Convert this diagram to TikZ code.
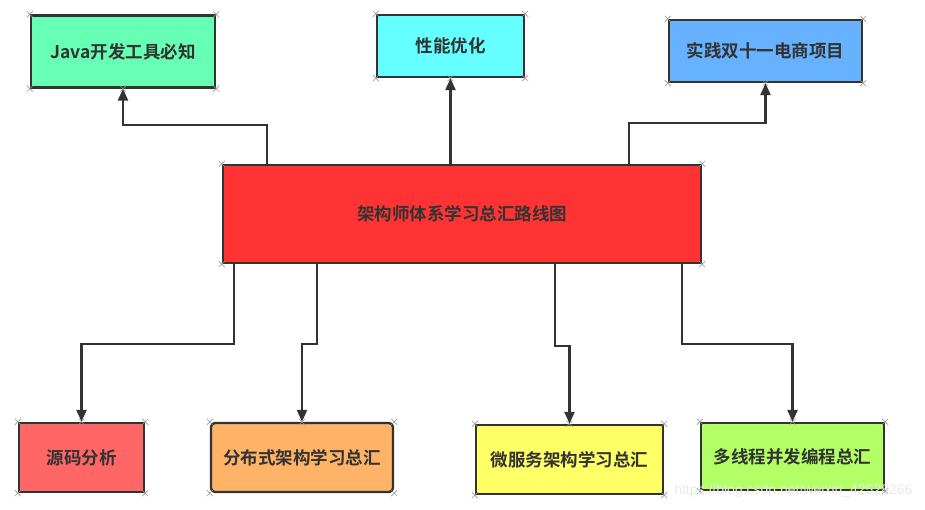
\documentclass[tikz,border=0pt]{standalone}
\usepackage{fontspec}
\setmainfont{Noto Sans CJK SC}[BoldFont={Noto Sans CJK SC Bold}]
\newfontfamily\wmfont{Liberation Sans}
\usetikzlibrary{arrows.meta,calc}
\definecolor{edge}{HTML}{333333}
\definecolor{cJava}{HTML}{66FFB3}
\definecolor{cPerf}{HTML}{66FFFF}
\definecolor{cShop}{HTML}{66B2FF}
\definecolor{cMain}{HTML}{FF3333}
\definecolor{cSrc}{HTML}{FF6666}
\definecolor{cDist}{HTML}{FFB366}
\definecolor{cMicro}{HTML}{FFFF66}
\definecolor{cThread}{HTML}{B3FF66}
\tikzset{
  box/.style={draw=edge, line width=2.4pt, inner sep=0pt, text=edge,
    font=\fontsize{17.5}{20}\selectfont\bfseries},
  conn/.style={draw=edge, line width=2.4pt, -{Triangle[length=12pt,width=10pt]}},
  xm/.pic={\draw[gray!80, line width=0.6pt] (-3,-3)--(3,3) (-3,3)--(3,-3);}
}
\begin{document}
\begin{tikzpicture}[x=1pt,y=-1pt]
\useasboundingbox (0,0) rectangle (925,510);
% boxes
\node[box, fill=cJava, minimum width=184pt, minimum height=72pt] (j) at (123,51.5) {Java开发工具必知};
\node[box, fill=cPerf, minimum width=147pt, minimum height=62pt] (p) at (450.5,46) {性能优化};
\node[box, fill=cShop, minimum width=193pt, minimum height=62pt] (s) at (765.5,51) {实践双十一电商项目};
\node[box, fill=cMain, minimum width=478pt, minimum height=98pt] (c) at (462,214) {架构师体系学习总汇路线图};
\node[box, fill=cSrc, minimum width=125pt, minimum height=69pt] (a) at (81.5,457.5) {源码分析};
\node[box, fill=cDist, rounded corners=4pt, minimum width=182pt, minimum height=69pt] (b) at (302,457.5) {分布式架构学习总汇};
\node[box, fill=cMicro, minimum width=187pt, minimum height=69pt] (m) at (569.5,459.5) {微服务架构学习总汇};
\node[box, fill=cThread, minimum width=183pt, minimum height=67pt] (d) at (792.5,456.5) {多线程并发编程总汇};
% connectors
\draw[conn] ([xshift=45pt]c.north west) -- ++(0,-39) -| (j.south);
\draw[conn] (p.south |- c.north) -- (p.south);
\draw[conn] ([xshift=-73pt]c.north east) -- ++(0,-41) -| (s.south);
\draw[conn] ([xshift=12pt]c.south west) -- ++(0,80) -| (a.north);
\draw[conn] ([xshift=95pt]c.south west) -- ++(0,80) -| (b.north);
\draw[conn] ([xshift=333pt]c.south west) -- ++(0,82) -| (m.north);
\draw[conn] ([xshift=-20pt]c.south east) -- ++(0,80) -| (d.north);
% selection markers
\foreach \n in {j,p,s,c,a,b,m,d}
  \foreach \an in {north west,north east,south west,south east}
    \pic at (\n.\an) {xm};
\foreach \pt in {j.south,p.south,s.south,a.north,b.north,m.north,d.north}
  \pic at (\pt) {xm};
% watermark
\node[text=gray!18, font=\wmfont\fontsize{14}{16}\selectfont, anchor=east] (wm) at (916,491) {https://blog.csdn.net/weixin\_42528266};
\end{tikzpicture}
\end{document}
